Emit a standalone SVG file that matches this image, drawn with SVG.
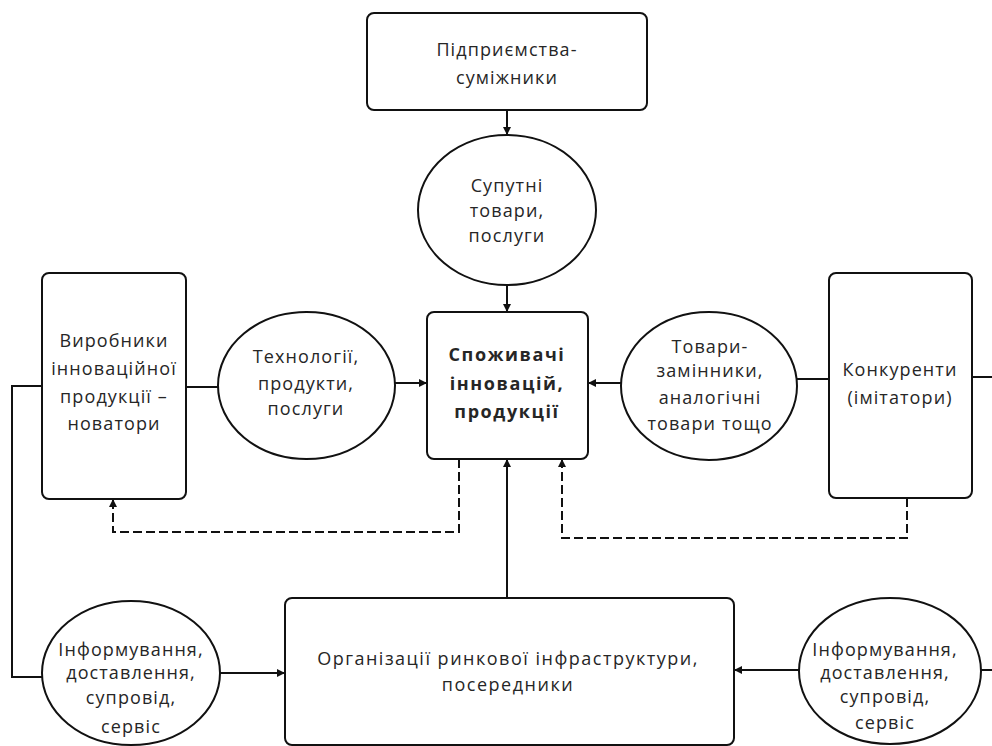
<svg xmlns="http://www.w3.org/2000/svg" width="992" height="746" viewBox="0 0 992 746">
<style>
.box{fill:#fff;stroke:#111;stroke-width:2}
.ell{fill:#fff;stroke:#111;stroke-width:2}
.t{font-family:"Open Sans","DejaVu Sans",sans-serif;font-size:18px;fill:#262626;text-anchor:middle;letter-spacing:1.1px}
.b{font-weight:bold;letter-spacing:1.6px}
.w{letter-spacing:1.5px}
.ln{fill:none;stroke:#111;stroke-width:2}
.dash{fill:none;stroke:#111;stroke-width:2;stroke-dasharray:9 4}
</style>
<defs>
<marker id="ah" viewBox="0 0 8 8" refX="8" refY="4" markerWidth="8" markerHeight="8" markerUnits="userSpaceOnUse" orient="auto">
<path d="M0,0 L8,4 L0,8 z" fill="#111"/>
</marker>
</defs>
<rect width="992" height="746" fill="#fff"/>
<g id="connectors">
<line class="ln" x1="507" y1="110" x2="507" y2="135" marker-end="url(#ah)"/>
<line class="ln" x1="507" y1="285" x2="507" y2="312" marker-end="url(#ah)"/>
<line class="ln" x1="186" y1="387" x2="218" y2="387"/>
<line class="ln" x1="395" y1="383" x2="427" y2="383" marker-end="url(#ah)"/>
<line class="ln" x1="621" y1="383" x2="588" y2="383" marker-end="url(#ah)"/>
<line class="ln" x1="797" y1="379" x2="829" y2="379"/>
<line class="ln" x1="972" y1="377" x2="992" y2="377"/>
<polyline class="ln" points="42,386 12,386 12,677 42,677"/>
<line class="ln" x1="220" y1="673" x2="285" y2="673" marker-end="url(#ah)"/>
<line class="ln" x1="799" y1="670" x2="734" y2="670" marker-end="url(#ah)"/>
<line class="ln" x1="981" y1="670" x2="992" y2="670"/>
<line class="ln" x1="507" y1="598" x2="507" y2="459" marker-end="url(#ah)"/>
<polyline class="dash" points="459,459 459,532 113,532 113,499" marker-end="url(#ah)"/>
<polyline class="dash" points="907,498 907,538 562,538 562,459" marker-end="url(#ah)"/>
</g>
<g id="n-top">
<rect class="box" x="367" y="13" width="280" height="97" rx="7"/>
<text class="t" x="507" y="56">Підприємства-</text>
<text class="t" x="507" y="84">суміжники</text>
</g>
<g id="n-supp">
<ellipse class="ell" cx="507" cy="210" rx="89" ry="75"/>
<text class="t" x="507" y="192">Супутні</text>
<text class="t" x="507" y="217">товари,</text>
<text class="t" x="507" y="242">послуги</text>
</g>
<g id="n-center">
<rect class="box" x="427" y="312" width="161" height="147" rx="7"/>
<text class="t b" x="507" y="361">Споживачі</text>
<text class="t b" x="507" y="390">інновацій,</text>
<text class="t b" x="507" y="418">продукції</text>
</g>
<g id="n-left">
<rect class="box" x="42" y="273" width="144" height="226" rx="7"/>
<text class="t" x="114" y="347">Виробники</text>
<text class="t" x="114" y="375">інноваційної</text>
<text class="t" x="114" y="403">продукції –</text>
<text class="t" x="114" y="430">новатори</text>
</g>
<g id="n-tech">
<ellipse class="ell" cx="306.5" cy="385.5" rx="88.5" ry="73.5"/>
<text class="t" x="306" y="363">Технології,</text>
<text class="t" x="306" y="390">продукти,</text>
<text class="t" x="306" y="415">послуги</text>
</g>
<g id="n-subst">
<ellipse class="ell" cx="709" cy="386" rx="88" ry="74"/>
<text class="t" x="710" y="353">Товари-</text>
<text class="t" x="710" y="377">замінники,</text>
<text class="t" x="710" y="404">аналогічні</text>
<text class="t" x="710" y="430">товари тощо</text>
</g>
<g id="n-comp">
<rect class="box" x="829" y="273" width="143" height="225" rx="7"/>
<text class="t" x="900" y="376">Конкуренти</text>
<text class="t" x="900" y="404">(імітатори)</text>
</g>
<g id="n-org">
<rect class="box" x="285" y="598" width="449" height="147" rx="7"/>
<text class="t w" x="508" y="665">Організації ринкової інфраструктури,</text>
<text class="t w" x="508" y="691">посередники</text>
</g>
<g id="n-info-l">
<ellipse class="ell" cx="131" cy="673" rx="89" ry="72"/>
<text class="t" x="131" y="656">Інформування,</text>
<text class="t" x="131" y="679">доставлення,</text>
<text class="t" x="131" y="704">супровід,</text>
<text class="t" x="131" y="733">сервіс</text>
</g>
<g id="n-info-r">
<ellipse class="ell" cx="890" cy="671" rx="91" ry="73"/>
<text class="t" x="885" y="656">Інформування,</text>
<text class="t" x="885" y="679">доставлення,</text>
<text class="t" x="885" y="703">супровід,</text>
<text class="t" x="885" y="729">сервіс</text>
</g>
</svg>
